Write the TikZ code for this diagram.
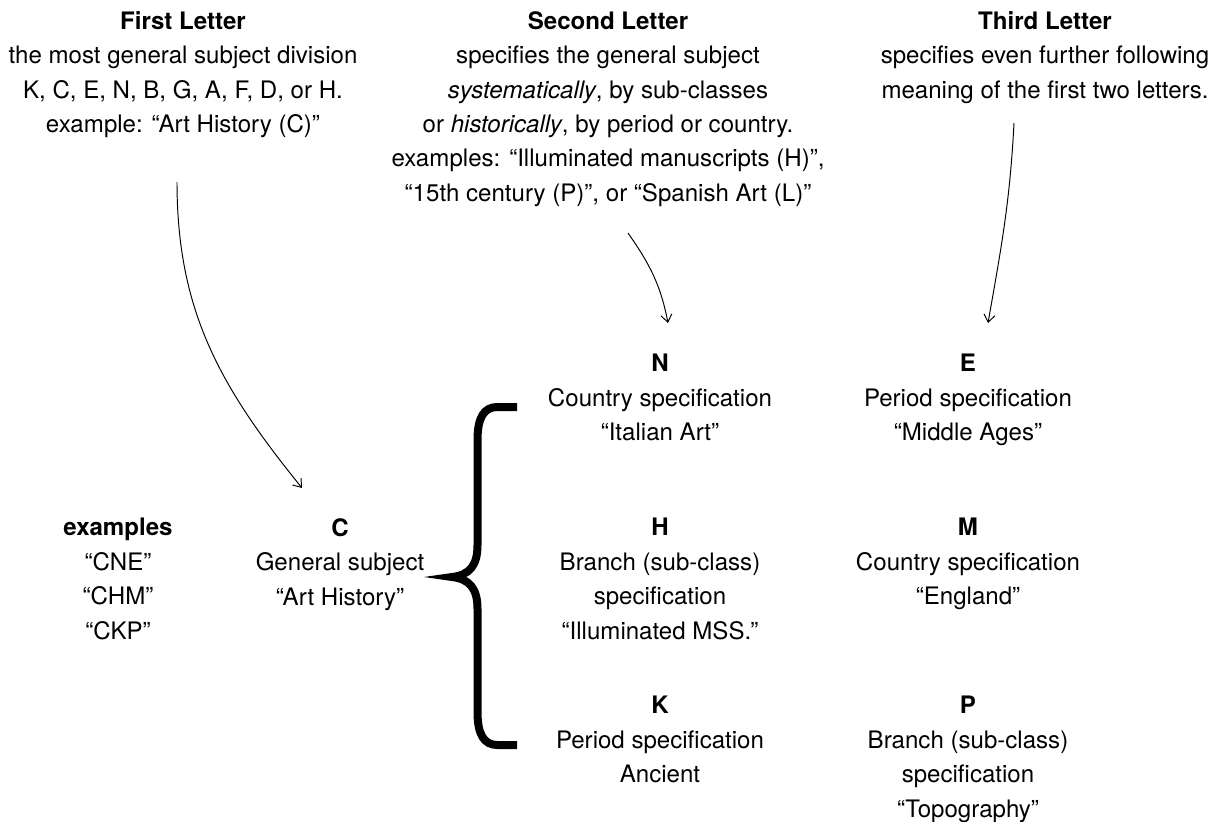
\documentclass[tikz,border=0pt]{standalone}
\usepackage{fontspec}
\setmainfont{TeX Gyre Heros}
\usetikzlibrary{arrows.meta}
\usetikzlibrary{positioning}
\tikzstyle{block} = [align=center, inner sep=0pt, anchor=north,
font=\fontsize{13.7}{19.6}\selectfont]
\tikzstyle{entry} = [block]
\tikzstyle{brace} = [line width=0.16cm]
\tikzset{>={Straight Barb[length=1.5mm,width=2.2mm]}}
\newcommand{\pointer}[3][]{ %
  % Curved pointer from coordinate #2 to coordinate #3.
  \path (#2) edge [->,line width=0.55pt,#1] (#3) ;%
}

\begin{document}
\begin{tikzpicture}
  \useasboundingbox (0,0) rectangle (24.36,-16.42);

  % the three letters
  \node[block] (first) at (3.66,-0.22) {\textbf{First Letter}\\
    the most general subject division\\
    K, C, E, N, B, G, A, F, D, or H.\\
    example: “Art History (C)"};
  \node[block] (second) at (12.16,-0.22) {\textbf{Second Letter}\\
    specifies the general subject\\
    \textit{systematically}, by sub-classes\\
    or \textit{historically}, by period or country.\\
    examples: “Illuminated manuscripts (H)”,\\
    “15th century (P)”, or “Spanish Art (L)”};
  \node[block] (third) at (20.90,-0.22) {\textbf{Third Letter}\\
    specifies even further following\\
    meaning of the first two letters.};

  % entries
  \node[entry] (ex) at (2.36,-10.36) {\textbf{examples}\\“CNE”\\“CHM”\\“CKP”};
  \node[entry] (C) at (6.80,-10.36) {\textbf{C}\\General subject\\“Art History”};
  \node[entry] (N) at (13.20,-7.08) {\textbf{N}\\Country specification\\“Italian Art”};
  \node[entry] (H) at (13.20,-10.36) {\textbf{H}\\Branch (sub-class)\\specification\\“Illuminated MSS.”};
  \node[entry] (K) at (13.20,-13.92) {\textbf{K}\\Period specification\\Ancient};
  \node[entry] (E) at (19.36,-7.08) {\textbf{E}\\Period specification\\“Middle Ages”};
  \node[entry] (M) at (19.36,-10.36) {\textbf{M}\\Country specification\\“England”};
  \node[entry] (P) at (19.36,-13.92) {\textbf{P}\\Branch (sub-class)\\specification\\“Topography”};

  % pointers
  \coordinate (first-out) at (3.54,-3.64);
  \coordinate (second-out) at (12.56,-4.66);
  \coordinate (third-out) at (20.28,-2.46);
  \coordinate (C-in) at (6.04,-9.76);
  \coordinate (N-in) at (13.36,-6.46);
  \coordinate (E-in) at (19.76,-6.46);
  \pointer[out=-90,in=129]{first-out}{C-in}
  \pointer[out=-55,in=101]{second-out}{N-in}
  \pointer[out=-93,in=80]{third-out}{E-in}

  % brace
  \draw[brace] (10.34,-8.14) -- (9.95,-8.14)
    .. controls (9.68,-8.14) and (9.55,-8.35) .. (9.55,-8.8) -- (9.55,-10.9)
    .. controls (9.55,-11.3) and (9.4,-11.5) .. (9.04,-11.54)
    .. controls (9.4,-11.58) and (9.55,-11.78) .. (9.55,-12.18) -- (9.55,-14.24)
    .. controls (9.55,-14.69) and (9.68,-14.9) .. (9.95,-14.9) -- (10.34,-14.9);
\end{tikzpicture}
\end{document}
